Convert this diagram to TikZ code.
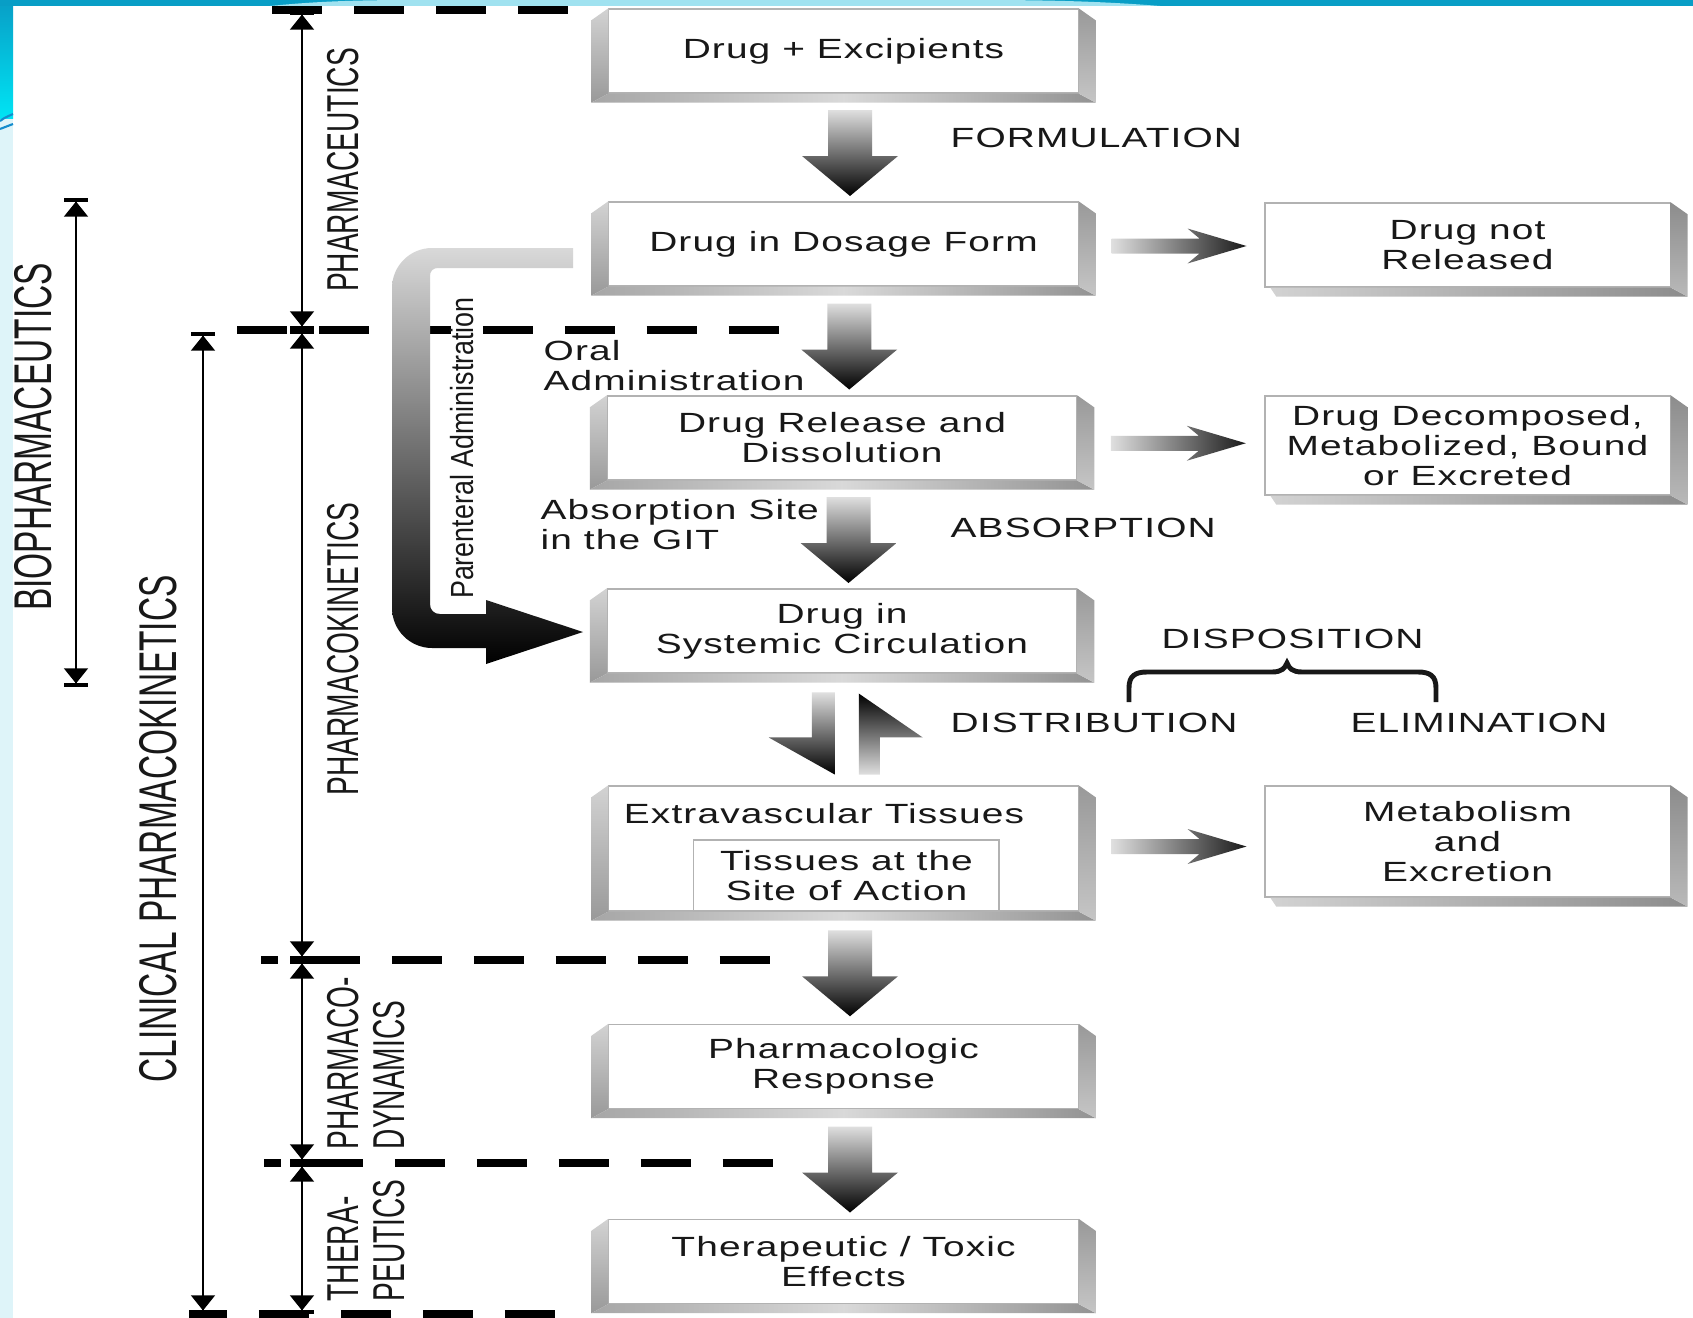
\documentclass[tikz,border=0pt]{standalone}
\usepackage{fontspec}
\setmainfont{Liberation Sans}
\newfontfamily\boxfont[FakeStretch=1.4,LetterSpace=4]{Liberation Sans}
\newfontfamily\narrowfont[FakeStretch=0.63]{Liberation Sans}
\newfontfamily\parafont[FakeStretch=0.84]{Liberation Sans}
\usepackage{tikz}
\usetikzlibrary{positioning, arrows.meta, calc}

\definecolor{slideblue}{RGB}{8,158,198}
\definecolor{slidecyan}{RGB}{222,244,249}
\definecolor{slidebright}{RGB}{0,228,244}
\definecolor{slidelight}{RGB}{160,226,240}
\definecolor{slideline}{RGB}{20,140,205}
\definecolor{inkgray}{RGB}{24,24,24}

% bevels of the 3D boxes
\newcommand{\mainbevel}[1]{%
  \shade[top color=gray!35, bottom color=gray!80] (#1.north west) -- ++(-17,12) -- ($(#1.south west)+(-17,9)$) -- (#1.south west) -- cycle;
  \shade[left color=gray!70, right color=gray!85, middle color=gray!30] ($(#1.south west)+(-17,9)$) -- (#1.south west) -- (#1.south east) -- ($(#1.south east)+(17,9)$) -- cycle;
  \shade[top color=gray!80, bottom color=gray!45] (#1.north east) -- ++(17,12) -- ($(#1.south east)+(17,9)$) -- (#1.south east) -- cycle;}
\newcommand{\sidebevel}[1]{%
  \shade[left color=gray!35, right color=gray!90] ($(#1.south west)+(6,0)$) -- (#1.south east) -- ($(#1.south east)+(17,9)$) -- ($(#1.south west)+(12,9)$) -- cycle;
  \shade[top color=gray!90, bottom color=gray!55] (#1.north east) -- ++(17,12) -- ($(#1.south east)+(17,9)$) -- (#1.south east) -- cycle;}
% block arrows between boxes
\newcommand{\blockdown}[2]{%
  \shade[blockfill] ($(#1.south)!0.5!(#2.north)+(-15.5,-37.5)$) -- ++(44,0) -- ++(0,46) -- ++(26,0) -- ++(-48,40) -- ++(-48,-40) -- ++(26,0) -- cycle;}
\newcommand{\blockright}[2]{%
  \shade[left color=gray!25, right color=black!90] ($(#1.east)!0.5!(#2.west)+(-60,-6)$) -- ++(88,0) -- ++(-12,-10) -- ++(59,17.5) -- ++(-59,17.5) -- ++(12,-10) -- ++(-88,0) -- cycle;}

\begin{document}
\begin{tikzpicture}[
  x=0.01cm, y=-0.01cm,
  face/.style={draw=gray!60, line width=0.35pt, fill=white, minimum width=4.69cm, minimum height=0.84cm, inner sep=0pt, align=center, text=inkgray, font=\boxfont\fontsize{7.9}{8.5}\selectfont},
  side/.style={face, minimum width=4.05cm},
  lbl/.style={anchor=west, align=left, inner sep=0pt, text=inkgray, font=\boxfont\fontsize{7.9}{8.5}\selectfont},
  vlbl/.style={rotate=90, inner sep=0pt, align=left, text=inkgray, font=\narrowfont\fontsize{12.7}{13.1}\selectfont},
  biglbl/.style={vlbl, font=\narrowfont\fontsize{15.1}{16}\selectfont},
  parlbl/.style={vlbl, font=\parafont\fontsize{9.1}{10}\selectfont},
  dimline/.style={line width=0.45pt, {Bar[width=6.8pt,line width=1pt]Triangle[width=6.8pt,length=4.3pt]}-{Triangle[width=6.8pt,length=4.3pt]Bar[width=6.8pt,line width=1pt]}},
  cutline/.style={line width=2pt, dash pattern=on 14.2pt off 9.1pt},
  blockfill/.style={top color=gray!25, bottom color=black}
]
  \useasboundingbox (0,0) rectangle (1693,1318);

  % slide background
  \fill[white] (0,0) rectangle (1693,1318);
  \fill[slidecyan] (0,0) rectangle (13,1318);
  \shade[top color=slideblue, bottom color=slidebright] (0,0) rectangle (13,118);
  \fill[slideblue] (0,0) rectangle (1693,6);
  \fill[slidelight] (270,6) .. controls (320,1) and (360,0) .. (420,0) -- (980,0) .. controls (1060,0) and (1110,2) .. (1160,6) -- cycle;
  \draw[slideline, line width=0.6pt] (0,121) .. controls (4,118) .. (13,114);
  \draw[slideline, line width=0.6pt] (0,129) -- (13,124);

  % phase boundaries
  \draw[cutline] (272,10) -- (572,10);
  \draw[cutline] (237,330) -- (783,330);
  \draw[cutline, dash phase=9.4pt] (261,960) -- (778,960);
  \draw[cutline, dash phase=9.4pt] (264,1163) -- (778,1163);
  \draw[cutline, dash phase=3.4pt] (189,1314) -- (557,1314);

  % dimension lines
  \draw[dimline] (76,198) -- (76,687);
  \draw[dimline] (203,332) -- (203,1314);
  \draw[dimline] (302,11) -- (302,330);
  \draw[dimline] (302,330) -- (302,960);
  \draw[dimline] (302,960) -- (302,1163);
  \draw[dimline] (302,1163) -- (302,1314);

  \node[biglbl] (bio) at (33,437) {BIOPHARMACEUTICS};
  \node[biglbl] (clin) at (158,829) {CLINICAL PHARMACOKINETICS};
  \node[vlbl] (pceut) at (343,170) {PHARMACEUTICS};
  \node[vlbl] (pkin) at (343,649) {PHARMACOKINETICS};
  \node[vlbl, anchor=west] (pdyn) at (366,1150) {PHARMACO-\\DYNAMICS};
  \node[vlbl, anchor=west] (ther) at (366,1302) {THERA-\\PEUTICS};

  % main column
  \node[face] (drugexc) at (843.5,51) {Drug + Excipients};
  \node[face] (dosage) at (843.5,244) {Drug in Dosage Form};
  \node[face] (release) at (842,438) {Drug Release and\\Dissolution};
  \node[face] (systemic) at (842,631) {Drug in\\Systemic Circulation};
  \node[face, minimum height=1.25cm] (extra) at (843.5,848.5) {};
  \node[face] (pharmresp) at (843.5,1066.5) {Pharmacologic\\Response};
  \node[face] (effects) at (843.5,1261.5) {Therapeutic / Toxic\\Effects};
  \foreach \b in {drugexc, dosage, release, systemic, extra, pharmresp, effects}
    \mainbevel{\b};

  \node[lbl, anchor=center] (extralbl) at ($(extra.north)+(-19.5,28)$) {Extravascular Tissues};
  \node[face, minimum width=3.05cm, minimum height=0.71cm, anchor=south west] (site) at ($(extra.south west)+(85,0)$) {Tissues at the\\Site of Action};

  % side boxes
  \node[side] (notrel) at (1467.5,245) {Drug not\\Released};
  \node[side, minimum height=0.99cm] (decomp) at (1467.5,445.5) {Drug Decomposed,\\Metabolized, Bound\\or Excreted};
  \node[side, minimum height=1.11cm] (metab) at (1467.5,841.5) {Metabolism\\and\\Excretion};
  \foreach \b in {notrel, decomp, metab}
    \sidebevel{\b};

  % arrows
  \blockdown{drugexc}{dosage}
  \blockdown{dosage}{release}
  \blockdown{release}{systemic}
  \blockdown{extra}{pharmresp}
  \blockdown{pharmresp}{effects}
  \blockright{dosage}{notrel}
  \blockright{release}{decomp}
  \blockright{extra}{metab}

  % distribution in and out
  \shade[top color=gray!25, bottom color=black] ($(systemic.south)!0.5!(extra.north)+(-31,-37)$) -- ++(23,0) -- ++(0,82) -- ++(-66,-37) -- ++(43,0) -- cycle;
  \shade[top color=black, bottom color=gray!25] ($(systemic.south)!0.5!(extra.north)+(16,-36)$) -- ++(64,44) -- ++(-43,0) -- ++(0,37) -- ++(-21,0) -- cycle;

  % parenteral route
  \shade[top color=gray!30, bottom color=black]
    (573,248) -- (432,248) .. controls (410,248) and (392,266) .. (392,288)
    -- (392,608) .. controls (392,630) and (410,648) .. (432,648)
    -- (486,648) -- (486,664) -- (583,632) -- (486,600) -- (486,614)
    -- (440,614) .. controls (434,614) and (430,610) .. (430,604)
    -- (430,276) .. controls (430,271) and (433,268) .. (438,268)
    -- (573,268) -- cycle;
  \node[parlbl] (parent) at (462,448) {Parenteral Administration};

  % labels
  \node[lbl] (formul) at (950,138) {FORMULATION};
  \node[lbl] (oral) at (543,366) {Oral\\Administration};
  \node[lbl] (abssite) at (540,525) {Absorption Site\\in the GIT};
  \node[lbl] (absorp) at (950,528) {ABSORPTION};
  \node[lbl] (dispos) at (1161,639) {DISPOSITION};
  \node[lbl] (distrib) at (950,723) {DISTRIBUTION};
  \node[lbl] (elim) at (1350,723) {ELIMINATION};

  % brace over distribution / elimination
  \draw[line width=1.4pt, inkgray] (1129,702) -- (1129,688) .. controls (1129,676) and (1135,672) .. (1147,672)
    -- (1272,672) .. controls (1282,672) and (1285,668) .. (1287,663) .. controls (1289,668) and (1292,672) .. (1302,672)
    -- (1418,672) .. controls (1430,672) and (1436,676) .. (1436,688) -- (1436,702);
\end{tikzpicture}
\end{document}
